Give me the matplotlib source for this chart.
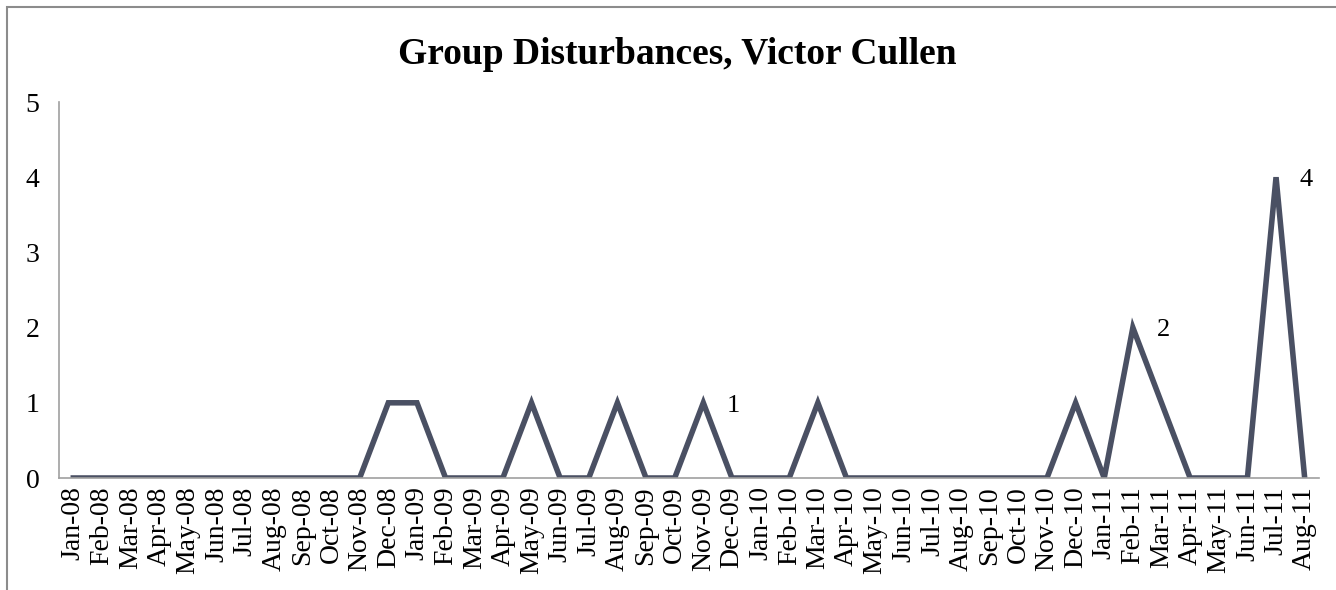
import matplotlib
matplotlib.use("Agg")
import matplotlib.pyplot as plt
from matplotlib.patches import Rectangle

months = ['Jan', 'Feb', 'Mar', 'Apr', 'May', 'Jun', 'Jul', 'Aug', 'Sep', 'Oct', 'Nov', 'Dec']
labels = [f'{m}-{y:02d}' for y in (8, 9, 10, 11) for m in months][:44]

values = [0, 0, 0, 0, 0, 0, 0, 0, 0, 0, 0, 1,   # 2008
          1, 0, 0, 0, 1, 0, 0, 1, 0, 0, 1, 0,   # 2009
          0, 0, 1, 0, 0, 0, 0, 0, 0, 0, 0, 1,   # 2010
          0, 2, 1, 0, 0, 0, 4, 0]               # 2011

# points that carry a data label
labelled = ['Nov-09', 'Feb-11', 'Jul-11']

plt.rcParams['font.family'] = ['Liberation Serif', 'DejaVu Serif']

fig = plt.figure(figsize=(13.36, 5.9), dpi=100)
ax = fig.add_axes([59 / 1336, 1 - 478 / 590, (1319 - 59) / 1336, (478 - 102) / 590])

x = list(range(len(labels)))
ax.plot(x, values, color='#4a5063', linewidth=4.0, solid_joinstyle='miter')

for name in labelled:
    i = labels.index(name)
    ax.annotate(str(values[i]), (i, values[i]), xytext=(17, -2), textcoords='offset points',
                fontsize=19, va='center', ha='left')

ax.set_xlim(-0.5, len(labels) - 0.5)
ax.set_ylim(0, 5)
ax.set_xticks(x)
ax.set_xticklabels(labels, rotation=90, fontsize=20)
ax.set_yticks(range(6))
ax.tick_params(axis='y', labelsize=20, length=0, pad=14)
ax.tick_params(axis='x', length=0, pad=6)

for s in ['top', 'right']:
    ax.spines[s].set_visible(False)
ax.spines['left'].set_color('#a0a0a0')
ax.spines['bottom'].set_color('#a0a0a0')
ax.spines['left'].set_linewidth(1.2)
ax.spines['bottom'].set_linewidth(1.2)

fig.text(677 / 1336, 1 - 55 / 590, 'Group Disturbances, Victor Cullen', ha='center', va='center',
         fontsize=27, fontweight='bold')

# chart-area border (only top and left edges fall inside the image)
fig.patches.append(Rectangle((7 / 1336, -0.05), 1.05, 1.05 - 7 / 590,
                             transform=fig.transFigure, fill=False, edgecolor='#8c8c8c',
                             linewidth=1.5))

fig.savefig('out.png', dpi=100)
